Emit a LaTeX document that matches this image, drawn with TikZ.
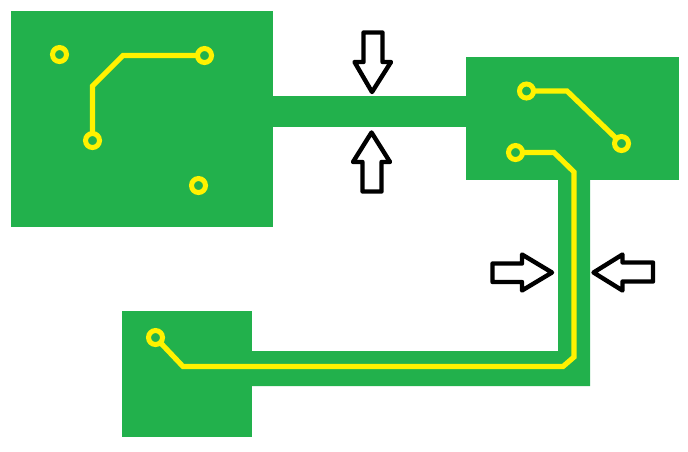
\documentclass[tikz,border=0pt]{standalone}
\definecolor{boardgreen}{RGB}{34,177,76}
\definecolor{trackyellow}{RGB}{255,242,0}
\tikzset{
  copper/.style={fill=boardgreen,draw=none},
  track/.style={draw=trackyellow,line width=3.9pt,line join=miter},
  pad/.style={circle,draw=trackyellow,fill=boardgreen,line width=3.75pt,inner sep=0pt,outer sep=0pt,minimum size=10.5pt},
  gaparrow/.style={draw=black,fill=white,line width=3.3pt,line join=round}
}
\begin{document}
\begin{tikzpicture}[x=0.75pt,y=0.75pt,yscale=-1,xscale=1]
 \useasboundingbox (0,0) rectangle (688,451);

 %Shape: copper areas
 \fill [copper] (11,11) rectangle (273,227);
 \fill [copper] (466,57) rectangle (679,180);
 \fill [copper] (122,311) rectangle (252,437);
 \fill [copper] (272,96) rectangle (467,127);
 \fill [copper] (558,179) -- (590,179) -- (590,386) -- (251,386) -- (251,351) -- (558,351) -- cycle;

 %Shape: pads
 \node [pad] (padA) at (59.5,54.5) {};
 \node [pad] (padB) at (204.5,55.5) {};
 \node [pad] (padC) at (92.5,140.5) {};
 \node [pad] (padD) at (198.5,185.5) {};
 \node [pad] (padE) at (526.5,91) {};
 \node [pad] (padF) at (621.5,143.5) {};
 \node [pad] (padG) at (515.5,152.5) {};
 \node [pad] (padH) at (155.5,337.5) {};

 %Straight Lines: tracks
 \draw [track] (padC) -- (92.5,86) -- (123,55.5) -- (padB);
 \draw [track] (padE) -- (567,91) -- (padF);
 \draw [track] (padG) -- (554,152.5) -- (574,172) -- (574,357) -- (563,366.5) -- (183,366.5) -- (padH);

 %Shape: arrows at the narrow track
 \draw [gaparrow] (372,92) -- (354.5,62) -- (363.5,62) -- (363.5,32.5) -- (382.5,32.5) -- (382.5,62) -- (391,62) -- cycle;
 \draw [gaparrow] (371.5,132.5) -- (353,162) -- (362.5,162) -- (362.5,191.5) -- (381.5,191.5) -- (381.5,162) -- (390,162) -- cycle;
 %Shape: arrows at the wide track
 \draw [gaparrow] (552,272.5) -- (522,254.5) -- (522,263.5) -- (492.5,263.5) -- (492.5,282) -- (522,282) -- (522,290.5) -- cycle;
 \draw [gaparrow] (593.5,272.5) -- (622.5,254.5) -- (622.5,262.5) -- (653,262.5) -- (653,281.5) -- (622.5,281.5) -- (622.5,290.5) -- cycle;
\end{tikzpicture}
\end{document}
